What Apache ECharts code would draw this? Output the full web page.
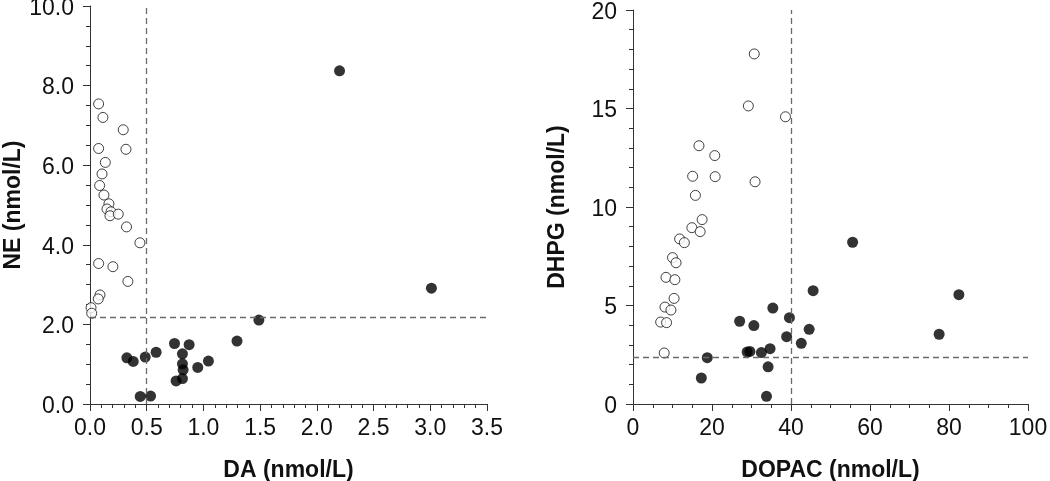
<!DOCTYPE html>
<html>
<head>
<meta charset="utf-8">
<script src="https://cdn.jsdelivr.net/npm/echarts@6/dist/echarts.min.js"></script>
<style>
html,body{margin:0;padding:0;background:#fff;}
#chart{width:1050px;height:481px;}
</style>
</head>
<body>
<div id="chart"></div>
<script>
// Left panel: DA vs NE
const leftOpenDA = [0.076,0.114,0.293,0.076,0.317,0.135,0.106,0.085,0.123,0.167,0.150,0.185,0.176,0.249,0.322,0.44,0.076,0.202,0.334,0.088,0.073,0.009,0.015];
const leftOpenNE = [7.54,7.20,6.89,6.42,6.40,6.07,5.78,5.49,5.25,5.03,4.90,4.83,4.73,4.77,4.45,4.05,3.53,3.45,3.08,2.74,2.64,2.42,2.28];
const leftFilledDA = [2.20,3.01,1.489,1.296,0.745,0.874,0.815,0.583,0.487,0.325,0.381,1.044,0.815,0.950,0.821,0.815,0.759,0.443,0.534];
const leftFilledNE = [8.37,2.91,2.11,1.58,1.52,1.49,1.26,1.30,1.18,1.16,1.07,1.08,1.01,0.92,0.86,0.64,0.58,0.19,0.20];
const daCut = 0.5;
const neCut = 2.18;

// Right panel: DOPAC vs DHPG
const rightOpenDOPAC = [30.7,29.2,38.6,16.7,20.7,15.1,20.8,30.9,15.8,17.5,14.9,17.0,11.8,13.0,10.0,10.9,8.35,10.6,10.4,8.1,9.6,7.0,8.5,7.9];
const rightOpenDHPG = [17.77,15.13,14.58,13.11,12.61,11.56,11.54,11.28,10.59,9.36,8.95,8.75,8.38,8.19,7.43,7.17,6.43,6.31,5.36,4.92,4.77,4.16,4.13,2.59];
const rightFilledDOPAC = [55.6,82.5,77.5,45.6,35.4,27.0,39.6,30.6,38.9,42.6,44.6,28.9,29.6,32.5,34.7,34.2,33.8,18.8,17.3];
const rightFilledDHPG = [8.21,5.55,3.54,5.75,4.87,4.20,4.38,3.98,3.42,3.08,3.79,2.64,2.67,2.61,2.81,1.89,0.39,2.35,1.32];
const dopacCut = 40;
const dhpgCut = 2.35;

const axisNames = {leftX:'DA (nmol/L)', leftY:'NE (nmol/L)', rightX:'DOPAC (nmol/L)', rightY:'DHPG (nmol/L)'};

function zip(a,b){return a.map((v,i)=>[v,b[i]]);}

const FONT = '"Liberation Sans", Arial, Helvetica, sans-serif';
const axisColor = '#333';

function axisBase(extra){
  return Object.assign({
    axisLine:{show:true,lineStyle:{color:axisColor,width:1}},
    axisTick:{show:true,inside:false,length:7,lineStyle:{color:axisColor,width:1}},
    minorTick:{show:true,length:4,lineStyle:{color:axisColor,width:1}},
    splitLine:{show:false},
    minorSplitLine:{show:false},
    axisLabel:{color:'#111',fontSize:23,fontFamily:FONT,margin:14},
    nameLocation:'middle',
    nameTextStyle:{color:'#111',fontSize:23,fontWeight:'bold',fontFamily:FONT}
  }, extra);
}

const dashStyle = {color:'#6a6a6a',width:1.3,type:[6,4]};

function markLines(xv,yv){
  return {
    silent:true,
    symbol:['none','none'],
    label:{show:false},
    lineStyle:dashStyle,
    animation:false,
    data:[{xAxis:xv},{yAxis:yv}]
  };
}

const openStyle = {color:'#fff',borderColor:'#111',borderWidth:1};
const filledStyle = {color:'#000',borderColor:'#000',borderWidth:0};

const yLabelBase = {color:'#111',fontSize:23,fontFamily:FONT,margin:16,verticalAlign:'top',lineHeight:5};

const option = {
  animation:false,
  backgroundColor:'#fff',
  grid:[
    {left:90,top:6,width:397,height:398,outerBoundsMode:'none',containLabel:false},
    {left:633,top:10,width:395,height:394,outerBoundsMode:'none',containLabel:false}
  ],
  xAxis:[
    axisBase({gridIndex:0,type:'value',min:0,max:3.5,interval:0.5,minorTick:{show:true,splitNumber:5,length:4,lineStyle:{color:axisColor}},
      axisLabel:{color:'#111',fontSize:23,fontFamily:FONT,margin:13,formatter:v=>v.toFixed(1)},
      name:axisNames.leftX,nameGap:55}),
    axisBase({gridIndex:1,type:'value',min:0,max:100,interval:20,minorTick:{show:true,splitNumber:4,length:4,lineStyle:{color:axisColor}},
      axisLabel:{color:'#111',fontSize:23,fontFamily:FONT,margin:13},
      name:axisNames.rightX,nameGap:55})
  ],
  yAxis:[
    axisBase({gridIndex:0,type:'value',min:0,max:10,interval:2,minorTick:{show:true,splitNumber:4,length:4,lineStyle:{color:axisColor}},
      axisLabel:Object.assign({},yLabelBase,{formatter:v=>v.toFixed(1)}),
      name:axisNames.leftY,nameGap:64}),
    axisBase({gridIndex:1,type:'value',min:0,max:20,interval:5,minorTick:{show:true,splitNumber:5,length:4,lineStyle:{color:axisColor}},
      axisLabel:Object.assign({},yLabelBase),
      name:axisNames.rightY,nameGap:64})
  ],
  series:[
    {type:'scatter',xAxisIndex:0,yAxisIndex:0,data:[],markLine:markLines(daCut,neCut),z:1},
    {type:'scatter',xAxisIndex:0,yAxisIndex:0,symbol:'circle',symbolSize:10,itemStyle:openStyle,data:zip(leftOpenDA,leftOpenNE),z:3},
    {type:'scatter',xAxisIndex:0,yAxisIndex:0,symbol:'circle',symbolSize:11,itemStyle:filledStyle,data:zip(leftFilledDA,leftFilledNE),z:3},
    {type:'scatter',xAxisIndex:1,yAxisIndex:1,data:[],markLine:markLines(dopacCut,dhpgCut),z:1},
    {type:'scatter',xAxisIndex:1,yAxisIndex:1,symbol:'circle',symbolSize:10,itemStyle:openStyle,data:zip(rightOpenDOPAC,rightOpenDHPG),z:3},
    {type:'scatter',xAxisIndex:1,yAxisIndex:1,symbol:'circle',symbolSize:11,itemStyle:filledStyle,data:zip(rightFilledDOPAC,rightFilledDHPG),z:3}
  ]
};

const chart = echarts.init(document.getElementById('chart'),null,{renderer:'canvas'});
chart.setOption(option);
</script>
</body>
</html>
